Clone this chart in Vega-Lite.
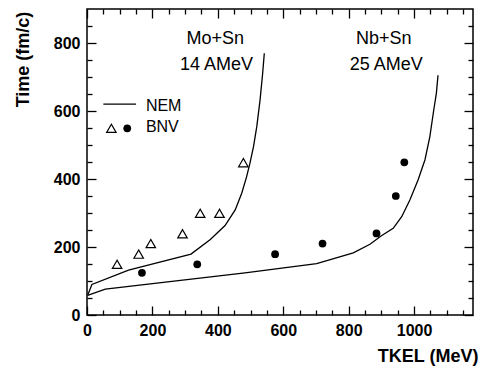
{
  "$schema": "https://vega.github.io/schema/vega-lite/v6.json",
  "width": 386,
  "height": 306,
  "autosize": {"type": "none"},
  "padding": {"left": 87, "top": 9, "right": 9, "bottom": 51},
  "config": {
    "font": "Liberation Sans",
    "view": {"stroke": "#000", "strokeWidth": 1.5},
    "axis": {"grid": false, "domain": false, "labelColor": "#000", "titleColor": "#000", "tickColor": "#000", "tickWidth": 1.3, "labelFlush": false, "labelOverlap": false}
  },
  "datasets": {
    "nem": [
      {"series": "Mo+Sn", "tkel": 2, "time": 58}, {"series": "Mo+Sn", "tkel": 15, "time": 90}, {"series": "Mo+Sn", "tkel": 127, "time": 132}, {"series": "Mo+Sn", "tkel": 318, "time": 179}, {"series": "Mo+Sn", "tkel": 377, "time": 222}, {"series": "Mo+Sn", "tkel": 422, "time": 263}, {"series": "Mo+Sn", "tkel": 453, "time": 309}, {"series": "Mo+Sn", "tkel": 473, "time": 358}, {"series": "Mo+Sn", "tkel": 488, "time": 407}, {"series": "Mo+Sn", "tkel": 498, "time": 446}, {"series": "Mo+Sn", "tkel": 509, "time": 495}, {"series": "Mo+Sn", "tkel": 519, "time": 554}, {"series": "Mo+Sn", "tkel": 529, "time": 632}, {"series": "Mo+Sn", "tkel": 537, "time": 711}, {"series": "Mo+Sn", "tkel": 542, "time": 770},
      {"series": "Nb+Sn", "tkel": 2, "time": 58}, {"series": "Nb+Sn", "tkel": 56, "time": 76}, {"series": "Nb+Sn", "tkel": 483, "time": 124}, {"series": "Nb+Sn", "tkel": 702, "time": 151}, {"series": "Nb+Sn", "tkel": 814, "time": 183}, {"series": "Nb+Sn", "tkel": 865, "time": 208}, {"series": "Nb+Sn", "tkel": 900, "time": 233}, {"series": "Nb+Sn", "tkel": 936, "time": 255}, {"series": "Nb+Sn", "tkel": 962, "time": 289}, {"series": "Nb+Sn", "tkel": 987, "time": 338}, {"series": "Nb+Sn", "tkel": 1012, "time": 397}, {"series": "Nb+Sn", "tkel": 1033, "time": 456}, {"series": "Nb+Sn", "tkel": 1048, "time": 524}, {"series": "Nb+Sn", "tkel": 1060, "time": 603}, {"series": "Nb+Sn", "tkel": 1068, "time": 652}, {"series": "Nb+Sn", "tkel": 1073, "time": 705}
    ],
    "bnv": [
      {"series": "Mo+Sn", "tkel": 92, "time": 149}, {"series": "Mo+Sn", "tkel": 158, "time": 179}, {"series": "Mo+Sn", "tkel": 195, "time": 210}, {"series": "Mo+Sn", "tkel": 292, "time": 239}, {"series": "Mo+Sn", "tkel": 346, "time": 299}, {"series": "Mo+Sn", "tkel": 405, "time": 299}, {"series": "Mo+Sn", "tkel": 478, "time": 448},
      {"series": "Nb+Sn", "tkel": 168, "time": 124}, {"series": "Nb+Sn", "tkel": 337, "time": 149}, {"series": "Nb+Sn", "tkel": 575, "time": 179}, {"series": "Nb+Sn", "tkel": 720, "time": 210}, {"series": "Nb+Sn", "tkel": 885, "time": 240}, {"series": "Nb+Sn", "tkel": 944, "time": 350}, {"series": "Nb+Sn", "tkel": 970, "time": 449}
    ],
    "notes": [
      {"text": "Mo+Sn", "tkel": 392, "time": 813}, {"text": "14 AMeV", "tkel": 396, "time": 735},
      {"text": "Nb+Sn", "tkel": 907, "time": 813}, {"text": "25 AMeV", "tkel": 915, "time": 735}
    ],
    "legendLine": [{"tkel": 50, "time": 620}, {"tkel": 150, "time": 620}],
    "legendTri": [{"tkel": 74.5, "time": 549}],
    "legendDot": [{"tkel": 123, "time": 549}],
    "legendText": [{"text": "NEM", "tkel": 180, "time": 616}, {"text": "BNV", "tkel": 180, "time": 553}]
  },
  "resolve": {"axis": {"x": "independent", "y": "independent"}},
  "layer": [
    {
      "data": {"name": "nem"},
      "mark": {"type": "line", "color": "#000", "strokeWidth": 1.3},
      "encoding": {
        "x": {"field": "tkel", "type": "quantitative", "scale": {"domain": [0, 1180], "nice": false},
          "axis": {"orient": "bottom", "values": [0, 200, 400, 600, 800, 1000], "format": "d", "ticks": false, "labelFontSize": 16, "labelFontWeight": "bold", "labelPadding": 7, "title": "TKEL (MeV)", "titleFontSize": 18, "titleFontWeight": "bold", "titleX": 391, "titleY": 46, "titleAlign": "right", "titleAnchor": null, "titleBaseline": "alphabetic"}},
        "y": {"field": "time", "type": "quantitative", "scale": {"domain": [0, 900], "nice": false},
          "axis": {"orient": "left", "values": [0, 200, 400, 600, 800], "format": "d", "ticks": false, "labelFontSize": 16, "labelFontWeight": "bold", "labelPadding": 7, "title": "Time (fm/c)", "titleFontSize": 18, "titleFontWeight": "bold", "titleX": -64, "titleY": 50, "titleAngle": 270, "titleAlign": "center", "titleBaseline": "middle"}},
        "detail": {"field": "series"}
      }
    },
    {
      "data": {"name": "bnv"},
      "transform": [{"filter": "datum.series === 'Mo+Sn'"}],
      "mark": {"type": "point", "shape": "triangle-up", "filled": false, "stroke": "#000", "strokeWidth": 1.2, "size": 90, "opacity": 1},
      "encoding": {
        "x": {"field": "tkel", "type": "quantitative", "scale": {"domain": [0, 1180], "nice": false},
          "axis": {"orient": "bottom", "values": [0, 200, 400, 600, 800, 1000], "tickSize": -9, "labels": false, "title": null}},
        "y": {"field": "time", "type": "quantitative", "scale": {"domain": [0, 900], "nice": false},
          "axis": {"orient": "left", "values": [0, 200, 400, 600, 800], "tickSize": -9, "labels": false, "title": null}}
      }
    },
    {
      "data": {"name": "bnv"},
      "transform": [{"filter": "datum.series === 'Nb+Sn'"}],
      "mark": {"type": "point", "shape": "circle", "filled": true, "color": "#000", "size": 60, "opacity": 1},
      "encoding": {
        "x": {"field": "tkel", "type": "quantitative", "scale": {"domain": [0, 1180], "nice": false},
          "axis": {"orient": "bottom", "values": [50, 100, 150, 250, 300, 350, 450, 500, 550, 650, 700, 750, 850, 900, 950, 1050, 1100, 1150], "tickSize": -5, "labels": false, "title": null}},
        "y": {"field": "time", "type": "quantitative", "scale": {"domain": [0, 900], "nice": false},
          "axis": {"orient": "left", "values": [50, 100, 150, 250, 300, 350, 450, 500, 550, 650, 700, 750, 850], "tickSize": -5, "labels": false, "title": null}}
      }
    },
    {
      "data": {"name": "notes"},
      "mark": {"type": "text", "fontSize": 18, "align": "center", "baseline": "middle", "color": "#000"},
      "encoding": {
        "text": {"field": "text"},
        "x": {"field": "tkel", "type": "quantitative", "scale": {"domain": [0, 1180], "nice": false},
          "axis": {"orient": "top", "values": [0, 200, 400, 600, 800, 1000], "tickSize": -9, "labels": false, "title": null}},
        "y": {"field": "time", "type": "quantitative", "scale": {"domain": [0, 900], "nice": false},
          "axis": {"orient": "right", "values": [0, 200, 400, 600, 800], "tickSize": -9, "labels": false, "title": null}}
      }
    },
    {
      "data": {"name": "legendLine"},
      "mark": {"type": "line", "color": "#000", "strokeWidth": 1.3},
      "encoding": {
        "x": {"field": "tkel", "type": "quantitative", "scale": {"domain": [0, 1180], "nice": false},
          "axis": {"orient": "top", "values": [50, 100, 150, 250, 300, 350, 450, 500, 550, 650, 700, 750, 850, 900, 950, 1050, 1100, 1150], "tickSize": -5, "labels": false, "title": null}},
        "y": {"field": "time", "type": "quantitative", "scale": {"domain": [0, 900], "nice": false},
          "axis": {"orient": "right", "values": [50, 100, 150, 250, 300, 350, 450, 500, 550, 650, 700, 750, 850], "tickSize": -5, "labels": false, "title": null}}
      }
    },
    {
      "data": {"name": "legendTri"},
      "mark": {"type": "point", "shape": "triangle-up", "filled": false, "stroke": "#000", "strokeWidth": 1.2, "size": 90, "opacity": 1},
      "encoding": {
        "x": {"field": "tkel", "type": "quantitative", "scale": {"domain": [0, 1180], "nice": false}, "axis": null},
        "y": {"field": "time", "type": "quantitative", "scale": {"domain": [0, 900], "nice": false}, "axis": null}
      }
    },
    {
      "data": {"name": "legendDot"},
      "mark": {"type": "point", "shape": "circle", "filled": true, "color": "#000", "size": 60, "opacity": 1},
      "encoding": {
        "x": {"field": "tkel", "type": "quantitative", "scale": {"domain": [0, 1180], "nice": false}, "axis": null},
        "y": {"field": "time", "type": "quantitative", "scale": {"domain": [0, 900], "nice": false}, "axis": null}
      }
    },
    {
      "data": {"name": "legendText"},
      "mark": {"type": "text", "fontSize": 16, "align": "left", "baseline": "middle", "color": "#000"},
      "encoding": {
        "text": {"field": "text"},
        "x": {"field": "tkel", "type": "quantitative", "scale": {"domain": [0, 1180], "nice": false}, "axis": null},
        "y": {"field": "time", "type": "quantitative", "scale": {"domain": [0, 900], "nice": false}, "axis": null}
      }
    }
  ]
}
